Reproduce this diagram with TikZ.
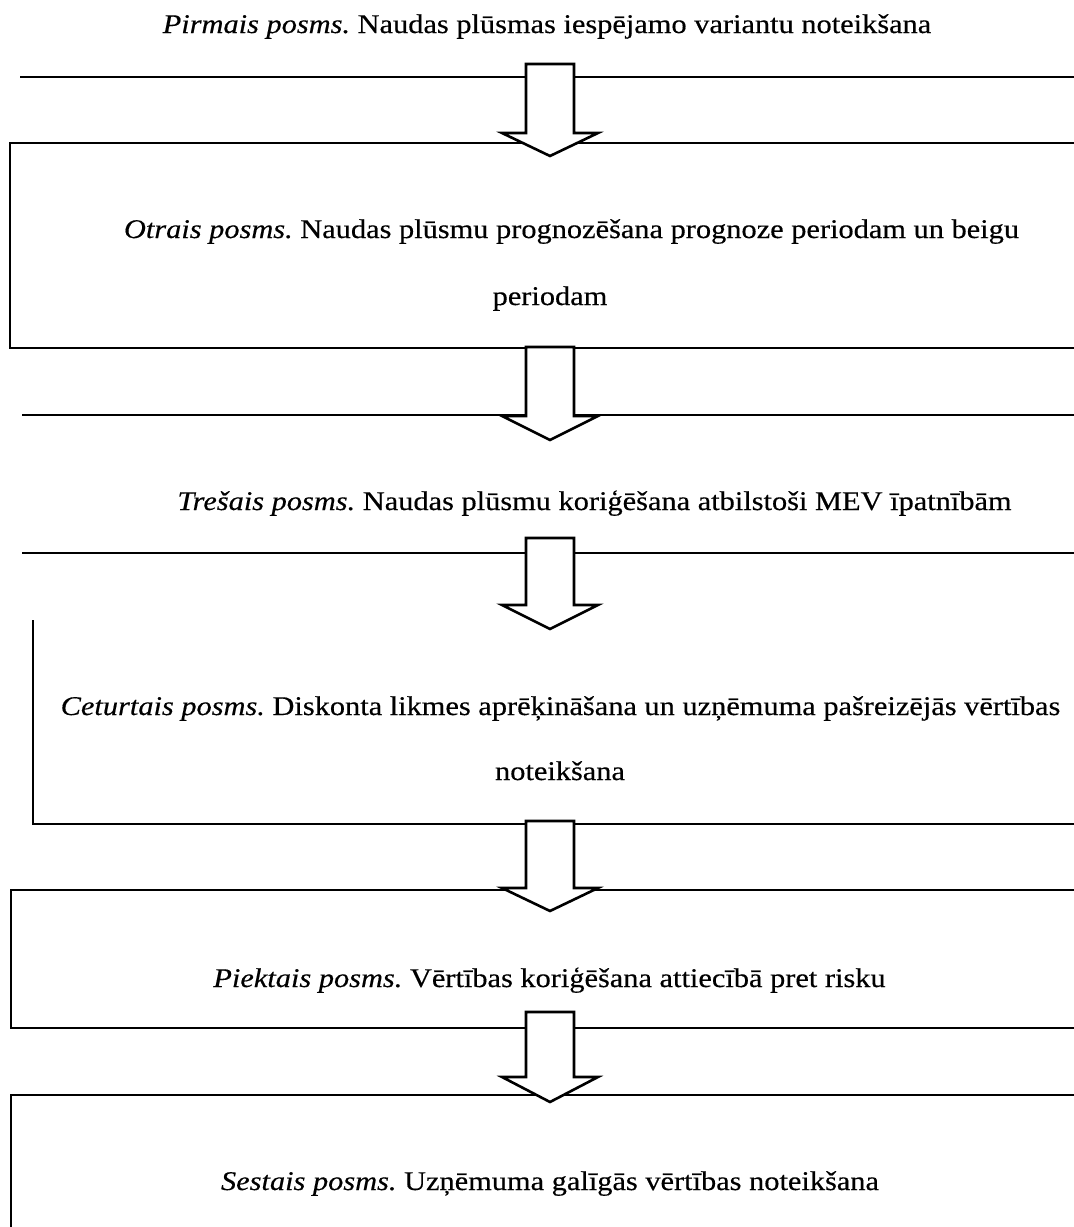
\documentclass[tikz,border=0pt]{standalone}
\usepackage{fontspec}
\setmainfont[FakeStretch=1.125,FakeBold=0.4]{Liberation Serif}
\begin{document}
\frenchspacing
\begin{tikzpicture}[x=1pt,y=-1pt,
  rule/.style={line width=1.8pt,black},
  blockarrow/.style={line width=2.6pt,draw=black,fill=white,line join=miter},
  label/.style={inner sep=0pt,anchor=base,font=\fontsize{27}{32}\selectfont}]
\useasboundingbox (0,0) rectangle (1074,1227);
% lines and boxes
\draw[rule] (20,77) -- (1074,77);
\draw[rule] (1074,143) -- (10,143) -- (10,348) -- (1074,348);
\draw[rule] (22,415) -- (1074,415);
\draw[rule] (22,553) -- (1074,553);
\draw[rule] (33,620) -- (33,824) -- (1074,824);
\draw[rule] (1074,890) -- (11,890) -- (11,1028) -- (1074,1028);
\draw[rule] (1074,1095) -- (11,1095) -- (11,1227);
% block arrows
\foreach \t/\s/\p [count=\i] in {64/133/156, 347/416/440, 538/605/629, 821/888/911, 1012/1077/1102}{
  \draw[blockarrow] (526,\t) -- (574,\t) -- (574,\s) -- (598,\s) -- (550,\p)
     -- (502,\s) -- (526,\s) -- cycle;
}
% texts
\node[label] (s1) at (547,33) {\textit{Pirmais posms.} Naudas plūsmas iespējamo variantu noteikšana};
\node[label] (s2a) at (571.5,238) {\textit{Otrais posms.} Naudas plūsmu prognozēšana prognoze periodam un beigu};
\node[label] (s2b) at (550,305) {periodam};
\node[label] (s3) at (594.5,510) {\textit{Trešais posms.} Naudas plūsmu koriģēšana atbilstoši MEV īpatnībām};
\node[label] (s4a) at (560.5,715) {\textit{Ceturtais posms.} Diskonta likmes aprēķināšana un uzņēmuma pašreizējās vērtības};
\node[label] (s4b) at (560,780) {noteikšana};
\node[label] (s5) at (549.5,987) {\textit{Piektais posms.} Vērtības koriģēšana attiecībā pret risku};
\node[label] (s6) at (550,1190) {\textit{Sestais posms.} Uzņēmuma galīgās vērtības noteikšana};
\end{tikzpicture}
\end{document}
